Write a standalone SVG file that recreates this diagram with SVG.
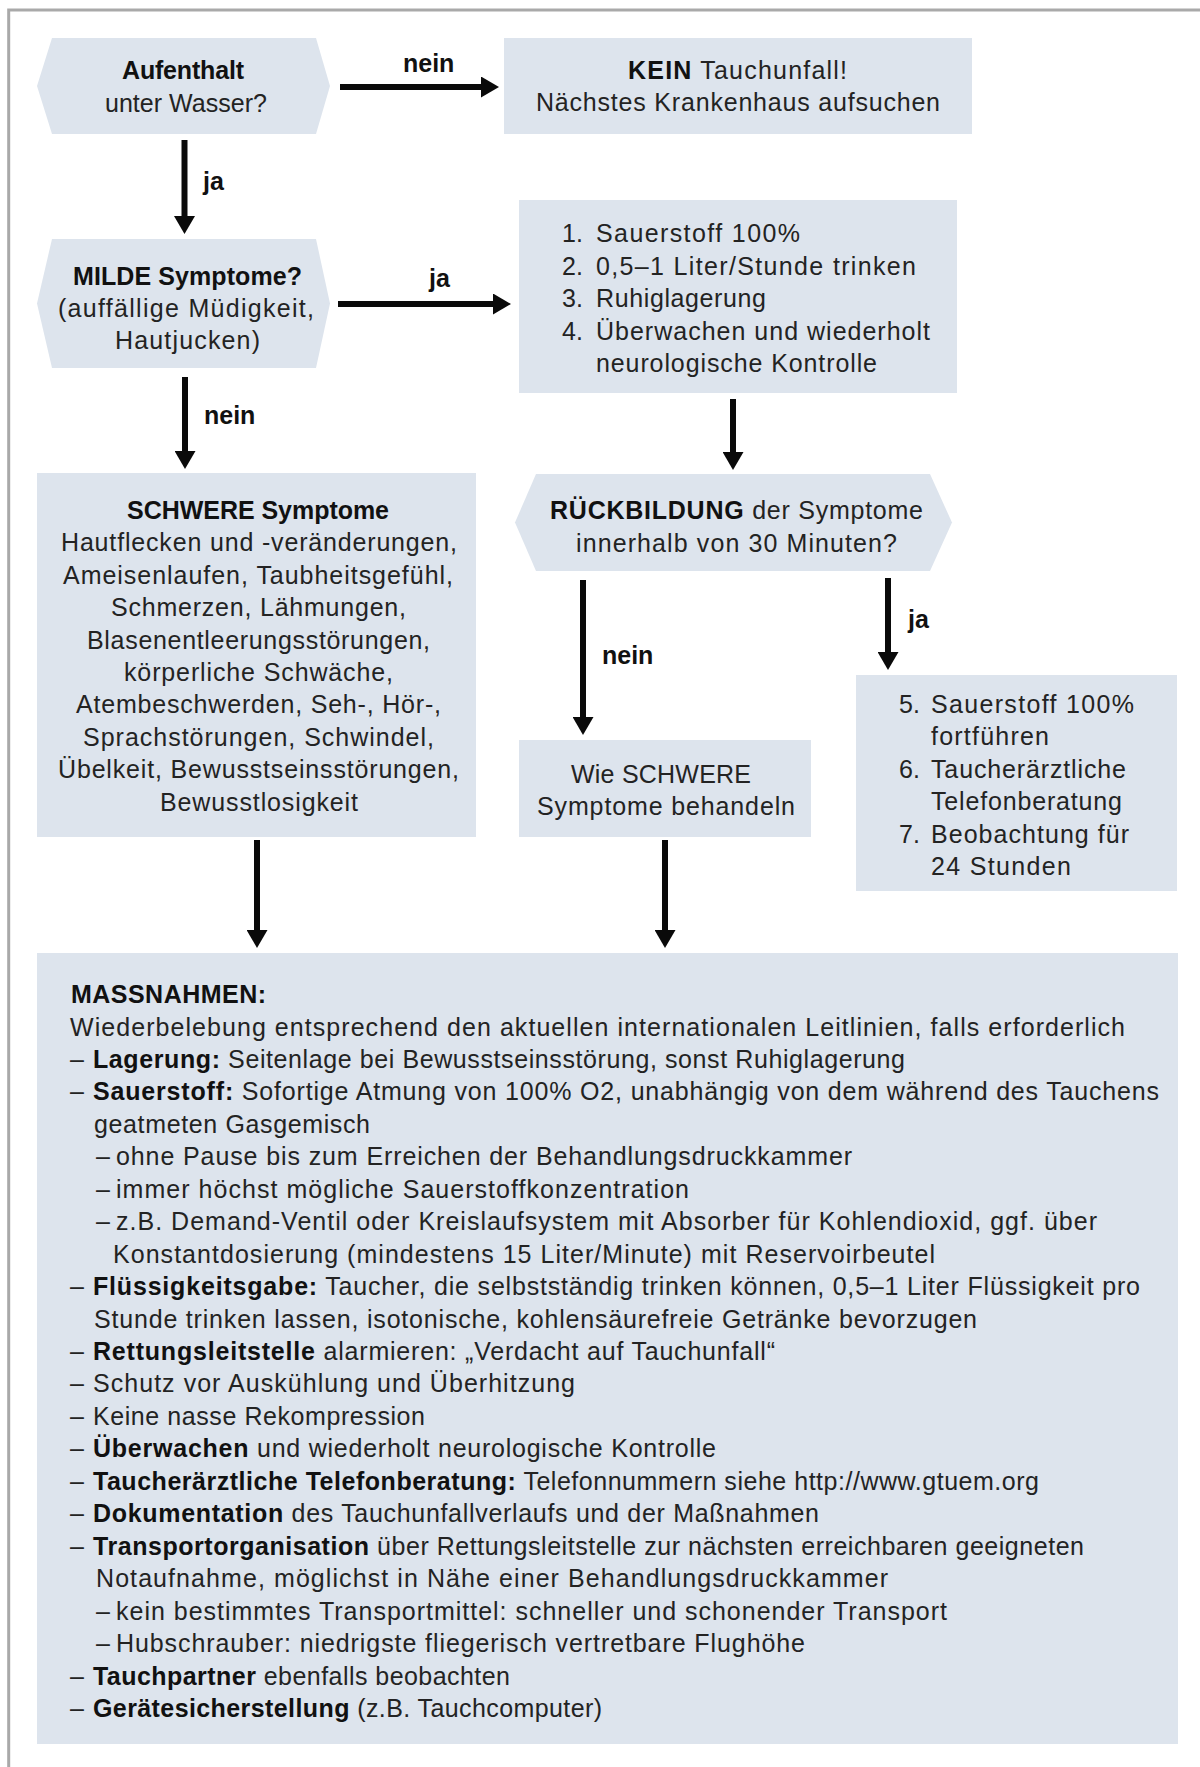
<svg xmlns="http://www.w3.org/2000/svg" width="1200" height="1767" viewBox="0 0 1200 1767">
<style>
text{font-family:"Liberation Sans",Arial,sans-serif;font-size:25px;fill:#232323}
.b{font-weight:bold;fill:#111}
.box{fill:#dde4ed}
.lbl{font-weight:bold;fill:#111}
.con line{stroke:#0a0a0a;stroke-width:6;marker-end:url(#ah)}
</style>
<defs>
<marker id="ah" markerUnits="userSpaceOnUse" markerWidth="18" markerHeight="21" viewBox="0 0 18 21" refX="8" refY="10.5" orient="auto">
<path d="M0,0 L18,10.5 L0,21 z" fill="#0a0a0a"/>
</marker>
</defs>
<rect width="1200" height="1767" fill="#fff"/>
<path d="M8.7,1767 V10 H1200" fill="none" stroke="#a9a9a9" stroke-width="3"/>

<g id="n1">
<polygon class="box" points="52,38 316,38 330,86 316,134 52,134 37,86"/>
<text class="b" x="122" y="79" textLength="122">Aufenthalt</text>
<text x="105" y="111.5" textLength="162">unter Wasser?</text>
</g>
<g id="n2">
<rect class="box" x="504" y="38" width="468" height="96"/>
<text x="628" y="79" textLength="219"><tspan class="b">KEIN</tspan> Tauchunfall!</text>
<text x="536" y="111" textLength="404">Nächstes Krankenhaus aufsuchen</text>
</g>
<g id="n3">
<polygon class="box" points="52,239 316,239 330,303.5 316,368 52,368 37,303.5"/>
<text class="b" x="73" y="285" textLength="229">MILDE Symptome?</text>
<text x="58" y="317" textLength="256">(auffällige Müdigkeit,</text>
<text x="115" y="349" textLength="145">Hautjucken)</text>
</g>
<g id="n4">
<rect class="box" x="519" y="200" width="438" height="193"/>
<text x="562" y="242">1.</text><text x="596" y="242" textLength="204">Sauerstoff 100%</text>
<text x="562" y="274.6">2.</text><text x="596" y="274.6" textLength="320">0,5–1 Liter/Stunde trinken</text>
<text x="562" y="307.2">3.</text><text x="596" y="307.2" textLength="170">Ruhiglagerung</text>
<text x="562" y="339.8">4.</text><text x="596" y="339.8" textLength="334">Überwachen und wiederholt</text>
<text x="596" y="372.4" textLength="281">neurologische Kontrolle</text>
</g>
<g id="n5">
<rect class="box" x="37" y="473" width="439" height="364"/>
<text class="b" x="127" y="519" textLength="262">SCHWERE Symptome</text>
<text x="61" y="551.4" textLength="396">Hautflecken und -veränderungen,</text>
<text x="63" y="583.8" textLength="390">Ameisenlaufen, Taubheitsgefühl,</text>
<text x="111" y="616.2" textLength="295">Schmerzen, Lähmungen,</text>
<text x="87" y="648.6" textLength="343">Blasenentleerungsstörungen,</text>
<text x="124" y="681" textLength="269">körperliche Schwäche,</text>
<text x="76" y="713.4" textLength="365">Atembeschwerden, Seh-, Hör-,</text>
<text x="83" y="745.8" textLength="351">Sprachstörungen, Schwindel,</text>
<text x="58" y="778.2" textLength="401">Übelkeit, Bewusstseinsstörungen,</text>
<text x="160" y="810.6" textLength="198">Bewusstlosigkeit</text>
</g>
<g id="n6">
<polygon class="box" points="536,474 930,474 952,522.5 930,571 536,571 515,522.5"/>
<text x="550" y="519" textLength="373"><tspan class="b">RÜCKBILDUNG</tspan> der Symptome</text>
<text x="576" y="552" textLength="321">innerhalb von 30 Minuten?</text>
</g>
<g id="n7">
<rect class="box" x="519" y="740" width="292" height="97"/>
<text x="571" y="783" textLength="180">Wie SCHWERE</text>
<text x="537" y="815" textLength="258">Symptome behandeln</text>
</g>
<g id="n8">
<rect class="box" x="856" y="675" width="321" height="216"/>
<text x="899" y="713">5.</text><text x="931" y="713" textLength="203">Sauerstoff 100%</text>
<text x="931" y="745.4" textLength="118">fortführen</text>
<text x="899" y="777.8">6.</text><text x="931" y="777.8" textLength="195">Taucherärztliche</text>
<text x="931" y="810.2" textLength="191">Telefonberatung</text>
<text x="899" y="842.6">7.</text><text x="931" y="842.6" textLength="198">Beobachtung für</text>
<text x="931" y="875" textLength="140">24 Stunden</text>
</g>
<g id="n9">
<rect class="box" x="37" y="953" width="1141" height="791"/>
<text class="b" x="71" y="1003" textLength="195">MASSNAHMEN:</text>
<text x="70" y="1035.5" textLength="1055">Wiederbelebung entsprechend den aktuellen internationalen Leitlinien, falls erforderlich</text>
<text x="70" y="1067.9">–</text><text x="93" y="1067.9" textLength="812"><tspan class="b">Lagerung:</tspan> Seitenlage bei Bewusstseinsstörung, sonst Ruhiglagerung</text>
<text x="70" y="1100.4">–</text><text x="93" y="1100.4" textLength="1066"><tspan class="b">Sauerstoff:</tspan> Sofortige Atmung von 100% O2, unabhängig von dem während des Tauchens</text>
<text x="94" y="1132.8" textLength="276">geatmeten Gasgemisch</text>
<text x="96" y="1165.3">–</text><text x="116" y="1165.3" textLength="736">ohne Pause bis zum Erreichen der Behandlungsdruckkammer</text>
<text x="96" y="1197.7">–</text><text x="116" y="1197.7" textLength="573">immer höchst mögliche Sauerstoffkonzentration</text>
<text x="96" y="1230.2">–</text><text x="116" y="1230.2" textLength="981">z.B. Demand-Ventil oder Kreislaufsystem mit Absorber für Kohlendioxid, ggf. über</text>
<text x="113" y="1262.6" textLength="822">Konstantdosierung (mindestens 15 Liter/Minute) mit Reservoirbeutel</text>
<text x="70" y="1295.1">–</text><text x="93" y="1295.1" textLength="1047"><tspan class="b">Flüssigkeitsgabe:</tspan> Taucher, die selbstständig trinken können, 0,5–1 Liter Flüssigkeit pro</text>
<text x="94" y="1327.5" textLength="883">Stunde trinken lassen, isotonische, kohlensäurefreie Getränke bevorzugen</text>
<text x="70" y="1360">–</text><text x="93" y="1360" textLength="682"><tspan class="b">Rettungsleitstelle</tspan> alarmieren: „Verdacht auf Tauchunfall“</text>
<text x="70" y="1392.4">–</text><text x="93" y="1392.4" textLength="482">Schutz vor Auskühlung und Überhitzung</text>
<text x="70" y="1424.9">–</text><text x="93" y="1424.9" textLength="332">Keine nasse Rekompression</text>
<text x="70" y="1457.3">–</text><text x="93" y="1457.3" textLength="623"><tspan class="b">Überwachen</tspan> und wiederholt neurologische Kontrolle</text>
<text x="70" y="1489.8">–</text><text x="93" y="1489.8" textLength="946"><tspan class="b">Taucherärztliche Telefonberatung:</tspan> Telefonnummern siehe http://www.gtuem.org</text>
<text x="70" y="1522.2">–</text><text x="93" y="1522.2" textLength="726"><tspan class="b">Dokumentation</tspan> des Tauchunfallverlaufs und der Maßnahmen</text>
<text x="70" y="1554.7">–</text><text x="93" y="1554.7" textLength="991"><tspan class="b">Transportorganisation</tspan> über Rettungsleitstelle zur nächsten erreichbaren geeigneten</text>
<text x="96" y="1587.1" textLength="792">Notaufnahme, möglichst in Nähe einer Behandlungsdruckkammer</text>
<text x="96" y="1619.6">–</text><text x="116" y="1619.6" textLength="831">kein bestimmtes Transportmittel: schneller und schonender Transport</text>
<text x="96" y="1652">–</text><text x="116" y="1652" textLength="689">Hubschrauber: niedrigste fliegerisch vertretbare Flughöhe</text>
<text x="70" y="1684.5">–</text><text x="93" y="1684.5" textLength="417"><tspan class="b">Tauchpartner</tspan> ebenfalls beobachten</text>
<text x="70" y="1716.9">–</text><text x="93" y="1716.9" textLength="509"><tspan class="b">Gerätesicherstellung</tspan> (z.B. Tauchcomputer)</text>
</g>

<g id="connectors" class="con">
<line x1="340" y1="87" x2="489" y2="87"/>
<line x1="184.5" y1="140" x2="184.5" y2="224"/>
<line x1="338" y1="304" x2="501" y2="304"/>
<line x1="185" y1="377" x2="185" y2="459"/>
<line x1="733" y1="399" x2="733" y2="460"/>
<line x1="583" y1="580" x2="583" y2="725"/>
<line x1="888" y1="578" x2="888" y2="660"/>
<line x1="257" y1="840" x2="257" y2="938"/>
<line x1="665" y1="840" x2="665" y2="938"/>
</g>
<g id="labels">
<text class="lbl" x="403" y="72">nein</text>
<text class="lbl" x="203" y="190">ja</text>
<text class="lbl" x="429" y="287">ja</text>
<text class="lbl" x="204" y="424">nein</text>
<text class="lbl" x="602" y="664">nein</text>
<text class="lbl" x="908" y="628">ja</text>
</g>
</svg>
